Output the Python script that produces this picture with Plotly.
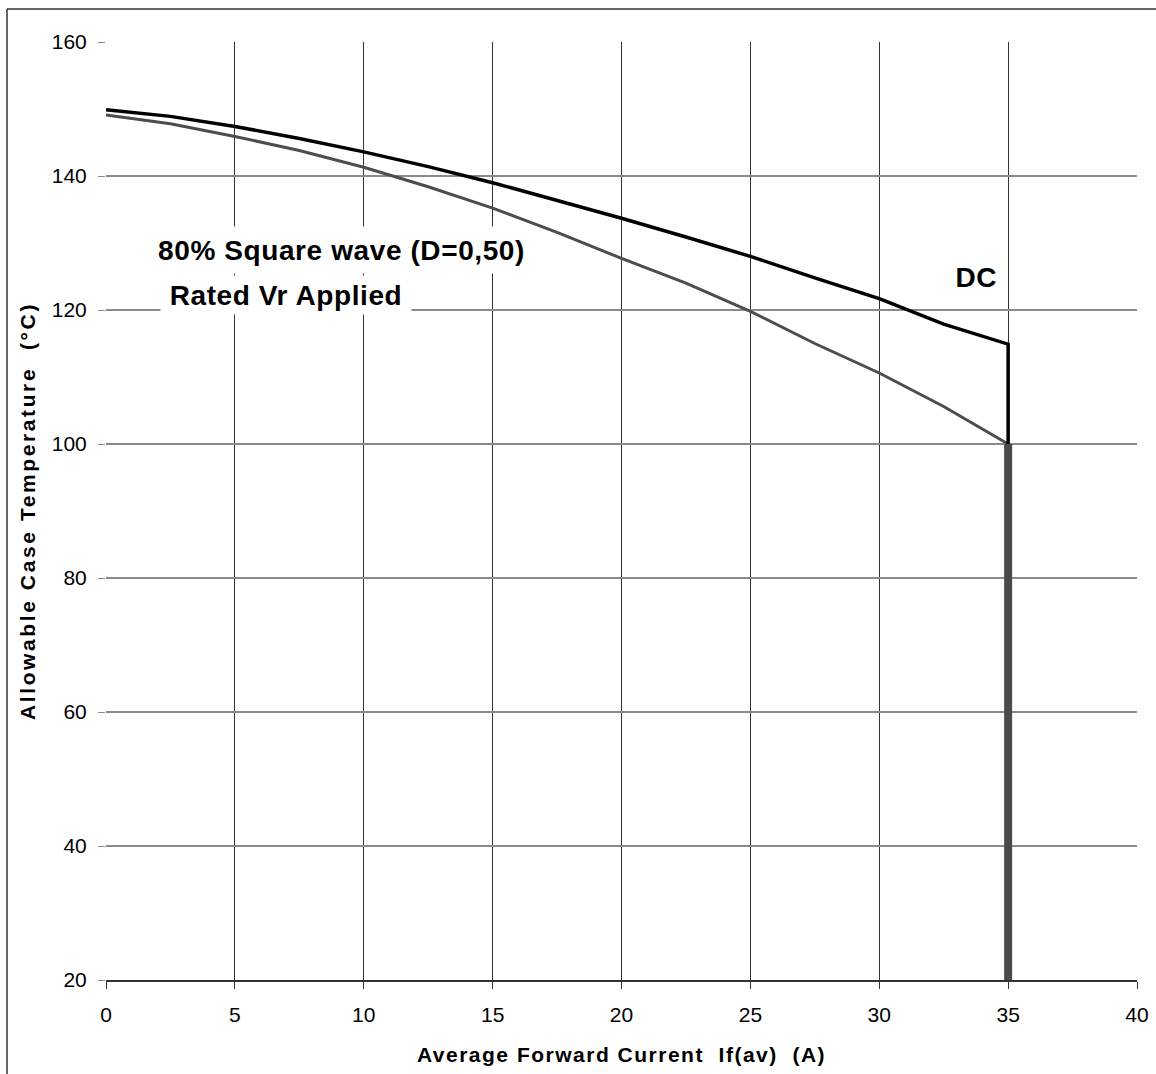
import plotly.graph_objects as go

# Data
current_a = [0, 2.5, 5, 7.5, 10, 12.5, 15, 17.5, 20, 22.5, 25, 27.5, 30, 32.5, 35]
dc_temp = [149.9, 148.9, 147.4, 145.6, 143.6, 141.4, 139.0, 136.4, 133.7, 130.9,
           128.0, 124.8, 121.7, 117.9, 114.9]
sq_temp = [149.1, 147.8, 145.9, 143.8, 141.3, 138.4, 135.2, 131.6, 127.7, 124.0,
           119.8, 115.0, 110.6, 105.6, 100.0]
cutoff_current = [35, 35]
dc_drop = [114.9, 100]
cutoff_temp = [100, 20]

x_ticks = [0, 5, 10, 15, 20, 25, 30, 35, 40]
y_ticks = [20, 40, 60, 80, 100, 120, 140, 160]

FONT = "Liberation Sans, Arial, sans-serif"

fig = go.Figure()
fig.add_trace(go.Scatter(x=cutoff_current, y=cutoff_temp, mode="lines",
                         line=dict(color="#4a4a4a", width=8), showlegend=False))
fig.add_trace(go.Scatter(x=current_a, y=sq_temp, mode="lines",
                         line=dict(color="#4d4d4d", width=3), showlegend=False))
fig.add_trace(go.Scatter(x=current_a + cutoff_current[:1], y=dc_temp + dc_drop[1:],
                         mode="lines", line=dict(color="#000000", width=3.5),
                         showlegend=False))

L, R, T, B = 106, 1137, 42, 980
W, H = 1156, 1074


def px(x):
    return (x - L) / (R - L)


def py(y):
    return (B - y) / (B - T)


fig.update_layout(
    width=W, height=H,
    margin=dict(l=L, r=W - R, t=T, b=H - B, autoexpand=False),
    paper_bgcolor="white", plot_bgcolor="white",
    font=dict(family=FONT, color="#000"),
    xaxis=dict(range=[0, 40], tickvals=x_ticks, showgrid=True, gridcolor="#333333",
               gridwidth=1, showline=True, linecolor="#333333", linewidth=1.5,
               ticks="outside", ticklen=7, tickcolor="#333333", zeroline=False,
               automargin=False,
               tickfont=dict(size=21, family=FONT), ticklabelstandoff=8,
               title=dict(text="Average Forward Current  If(av)  (A)",
                          font=dict(size=21, family=FONT, weight="bold"), standoff=22)),
    yaxis=dict(range=[20, 160], tickvals=y_ticks, showgrid=True, gridcolor="#8a8a8a",
               gridwidth=1.5, showline=False, ticks="outside", ticklen=7,
               tickcolor="#8a8a8a", zeroline=False, automargin=False,
               tickfont=dict(size=21, family=FONT), ticklabelstandoff=7,
               title=dict(text="Allowable Case Temperature  (°C)",
                          font=dict(size=21, family=FONT, weight="bold"), standoff=10)),
    annotations=[
        dict(x=9.15, y=128.9, xref="x", yref="y", text="80% Square wave (D=0,50)",
             showarrow=False, font=dict(size=28, family=FONT, weight="bold"),
             bgcolor="white", width=385, height=46, borderpad=0),
        dict(x=6.98, y=122.2, xref="x", yref="y", text="Rated Vr Applied",
             showarrow=False, font=dict(size=28, family=FONT, weight="bold"),
             bgcolor="white", width=250, height=38, borderpad=0),
        dict(x=33.75, y=124.8, xref="x", yref="y", text="DC",
             showarrow=False, font=dict(size=28, family=FONT, weight="bold")),
    ],
    shapes=[
        dict(type="line", xref="paper", yref="paper", x0=px(7), x1=px(W), y0=py(9), y1=py(9),
             line=dict(color="#333333", width=1.5)),
        dict(type="line", xref="paper", yref="paper", x0=px(7), x1=px(7), y0=py(9), y1=py(H),
             line=dict(color="#333333", width=1.5)),
    ],
)

post = """
document.body.style.margin = '0';
document.querySelectorAll('.g-xtitle text').forEach(function(t){
  t.style.letterSpacing = '1.5px';
});
document.querySelectorAll('.g-ytitle text').forEach(function(t){
  t.style.letterSpacing = '2.6px';
});
document.querySelectorAll('.annotation-text').forEach(function(t){
  t.style.letterSpacing = '0.6px';
});
"""
fig.write_html("out.html", post_script=post, config={"displayModeBar": False})
